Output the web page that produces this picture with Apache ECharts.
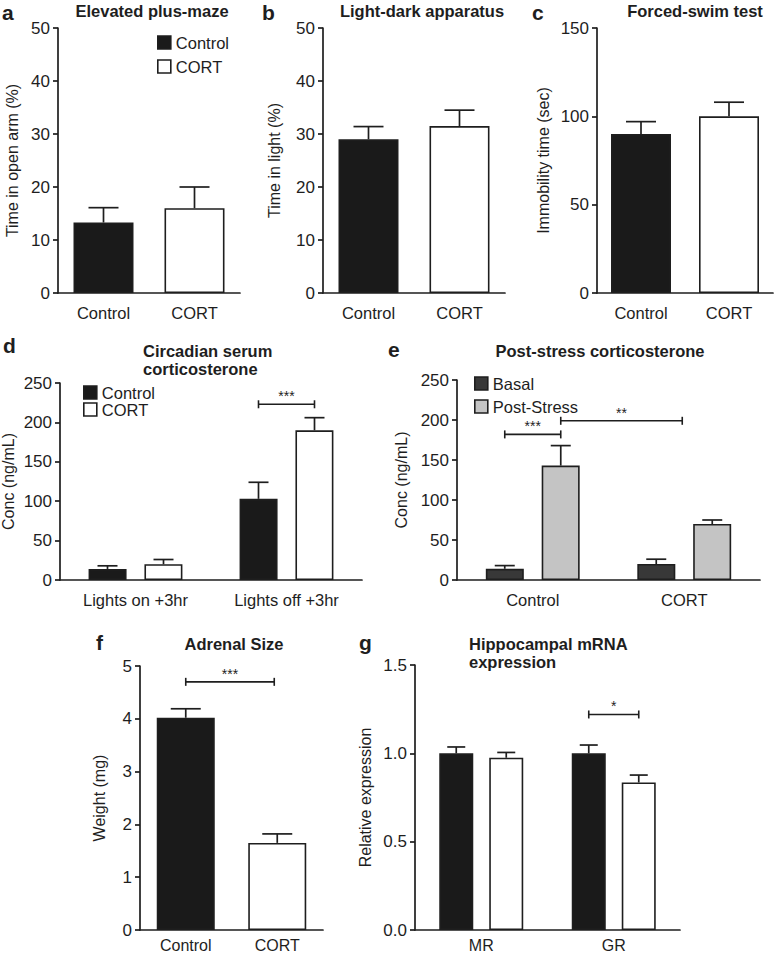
<!DOCTYPE html>
<html><head><meta charset="utf-8">
<script src="https://cdn.jsdelivr.net/npm/echarts@6/dist/echarts.min.js"></script>
<style>html,body{margin:0;padding:0;background:#fff}#c{width:774px;height:954px}</style>
</head><body><div id="c"></div>
<script>
// ---------- data ----------
const groupCats = ['Control', 'CORT'];
const epmMean = [13.3, 16.0];
const epmSem = [2.8, 4.0];
const ldMean = [29.0, 31.5];
const ldSem = [2.4, 3.0];
const fstMean = [90, 100];
const fstSem = [7, 8];

const circCats = ['Lights on +3hr', 'Lights off +3hr'];
const circControl = [14, 103];
const circControlSem = [4, 21];
const circCort = [20, 190];
const circCortSem = [6, 16];

const stressCats = ['Control', 'CORT'];
const stressBasal = [14, 20];
const stressBasalSem = [4, 6];
const stressPost = [143, 70];
const stressPostSem = [25, 5];

const adrenalMean = [4.02, 1.65];
const adrenalSem = [0.17, 0.17];

const mrnaCats = ['MR', 'GR'];
const mrnaControl = [1.0, 1.0];
const mrnaControlSem = [0.036, 0.047];
const mrnaCort = [0.975, 0.835];
const mrnaCortSem = [0.03, 0.042];

// significance brackets: [fromCategory, toCategory, height]
const sigCirc = [[1, 1, 223]];
const sigStressA = [[0, 0, 182]];
const sigStressB = [[0, 1, 199]];
const sigAdrenal = [[0, 1, 4.7]];
const sigMrna = [[1, 1, 1.22]];

// ---------- styles ----------
const FF = '"Liberation Sans", Arial, Helvetica, sans-serif';
const INK = '#1e1e1e';
const BLACK = {color: '#1a1a1a', borderColor: INK, borderWidth: 1.6};
const WHITE = {color: '#ffffff', borderColor: INK, borderWidth: 1.6};
const DARK = {color: '#383838', borderColor: INK, borderWidth: 1.6};
const LIGHT = {color: '#c4c4c4', borderColor: INK, borderWidth: 1.6};

const grids = [
  {left: 58, top: 28, width: 182, height: 265},   // a
  {left: 323, top: 28, width: 182, height: 265},  // b
  {left: 597, top: 28, width: 176, height: 265},  // c
  {left: 60, top: 383, width: 302, height: 197},  // d
  {left: 457, top: 380, width: 303, height: 200}, // e
  {left: 140, top: 666, width: 183, height: 264}, // f
  {left: 415, top: 665, width: 265, height: 265}  // g
].map(g => Object.assign({outerBoundsMode: 'none', containLabel: false}, g));

function xAx(gi, cats, bottomRow) {
  return {
    type: 'category', gridIndex: gi, data: cats,
    axisLine: {lineStyle: {color: INK, width: 1.7}},
    axisTick: {alignWithLabel: true, length: 5, lineStyle: {color: INK, width: 1.7}},
    axisLabel: {color: INK, fontSize: bottomRow ? 16 : 16.5, margin: bottomRow ? 7 : 10,
      lineHeight: bottomRow ? 16 : 19, fontFamily: FF, interval: 0},
    splitLine: {show: false}
  };
}
function yAx(gi, max, interval, name, gap, fmt) {
  return {
    type: 'value', gridIndex: gi, min: 0, max: max, interval: interval,
    name: name, nameLocation: 'middle', nameGap: gap,
    nameTextStyle: {color: INK, fontSize: 16, fontFamily: FF},
    axisLine: {show: true, lineStyle: {color: INK, width: 1.7}},
    axisTick: {show: true, length: 5, lineStyle: {color: INK, width: 1.7}},
    axisLabel: {color: INK, fontSize: 17, margin: 8, fontFamily: FF, formatter: fmt},
    splitLine: {show: false}
  };
}

function pairBars(gi, means, w) {
  return [
    {name: 'Control', type: 'bar', xAxisIndex: gi, yAxisIndex: gi, barWidth: w, barGap: '-100%',
      data: [means[0], '-'], itemStyle: BLACK, silent: true},
    {name: 'CORT', type: 'bar', xAxisIndex: gi, yAxisIndex: gi, barWidth: w, barGap: '-100%',
      data: ['-', means[1]], itemStyle: WHITE, silent: true}
  ];
}
function groupBar(gi, name, vals, style, w, gap) {
  return {name: name, type: 'bar', xAxisIndex: gi, yAxisIndex: gi, barWidth: w, barGap: gap,
    data: vals, itemStyle: style, silent: true};
}
function errSeries(gi, means, sems, offset, cap) {
  return {
    type: 'custom', xAxisIndex: gi, yAxisIndex: gi, z: 5, silent: true,
    data: means.map((m, i) => [i, m, m + sems[i]]),
    encode: {x: 0, y: [1, 2]},
    renderItem: function (params, api) {
      const a = api.coord([api.value(0), api.value(1)]);
      const b = api.coord([api.value(0), api.value(2)]);
      const x = a[0] + offset;
      const st = {stroke: INK, lineWidth: 1.7};
      return {type: 'group', children: [
        {type: 'line', shape: {x1: x, y1: a[1], x2: x, y2: b[1]}, style: st},
        {type: 'line', shape: {x1: x - cap, y1: b[1], x2: x + cap, y2: b[1]}, style: st}
      ]};
    }
  };
}
function bracket(gi, data, o1, o2, label) {
  return {
    type: 'custom', xAxisIndex: gi, yAxisIndex: gi, z: 6, silent: true,
    data: data, encode: {x: [0, 1], y: 2},
    renderItem: function (params, api) {
      const p1 = api.coord([api.value(0), api.value(2)]);
      const p2 = api.coord([api.value(1), api.value(2)]);
      const x1 = p1[0] + o1, x2 = p2[0] + o2, y = p1[1];
      const st = {stroke: INK, lineWidth: 1.6};
      return {type: 'group', children: [
        {type: 'line', shape: {x1: x1, y1: y, x2: x2, y2: y}, style: st},
        {type: 'line', shape: {x1: x1, y1: y - 4, x2: x1, y2: y + 4}, style: st},
        {type: 'line', shape: {x1: x2, y1: y - 4, x2: x2, y2: y + 4}, style: st},
        {type: 'text', x: (x1 + x2) / 2, y: y - 1,
          style: {text: label, align: 'center', verticalAlign: 'bottom', fill: INK,
            font: '14px ' + FF}}
      ]};
    }
  };
}

function txt(x, y, text, size, bold, align) {
  return {type: 'text', x: x, y: y, silent: true,
    style: {text: text, fill: INK, align: align || 'left', verticalAlign: 'middle',
      font: (bold ? 'bold ' : '') + size + 'px ' + FF}};
}

const legendText = {color: INK, fontSize: 16.5, fontFamily: FF, lineHeight: 15};

const option = {
  animation: false,
  backgroundColor: '#ffffff',
  grid: grids,
  xAxis: [
    xAx(0, groupCats), xAx(1, groupCats), xAx(2, groupCats),
    xAx(3, circCats), xAx(4, stressCats), xAx(5, groupCats, true), xAx(6, mrnaCats, true)
  ],
  yAxis: [
    yAx(0, 50, 10, 'Time in open arm (%)', 38),
    yAx(1, 50, 10, 'Time in light (%)', 41),
    yAx(2, 150, 50, 'Immobility time (sec)', 46),
    yAx(3, 250, 50, 'Conc (ng/mL)', 44),
    yAx(4, 250, 50, 'Conc (ng/mL)', 48),
    yAx(5, 5, 1, 'Weight (mg)', 33),
    yAx(6, 1.5, 0.5, 'Relative expression', 42, v => v.toFixed(1))
  ],
  legend: [
    {left: 157, top: 34, orient: 'vertical', icon: 'rect', itemWidth: 13, itemHeight: 13,
      itemGap: 7, selectedMode: false, textStyle: legendText, padding: 0,
      data: [{name: 'Control', itemStyle: BLACK}, {name: 'CORT', itemStyle: WHITE}]},
    {left: 83, top: 384, orient: 'vertical', icon: 'rect', itemWidth: 13, itemHeight: 13,
      itemGap: 0, selectedMode: false, textStyle: legendText, padding: 0,
      data: [{name: 'Control', itemStyle: BLACK}, {name: 'CORT', itemStyle: WHITE}]},
    {left: 474, top: 375, orient: 'vertical', icon: 'rect', itemWidth: 13, itemHeight: 13,
      itemGap: 6, selectedMode: false, textStyle: legendText, padding: 0,
      data: [{name: 'Basal', itemStyle: DARK}, {name: 'Post-Stress', itemStyle: LIGHT}]}
  ],
  graphic: [
    txt(2, 12, 'a', 21, true), txt(152, 11, 'Elevated plus-maze', 16.5, true, 'center'),
    txt(262, 12, 'b', 21, true), txt(422, 11, 'Light-dark apparatus', 16.5, true, 'center'),
    txt(532, 12, 'c', 21, true), txt(695, 11, 'Forced-swim test', 16.5, true, 'center'),
    txt(3, 345, 'd', 21, true), txt(143, 351, 'Circadian serum', 16.5, true),
    txt(143, 369, 'corticosterone', 16.5, true),
    txt(388, 349, 'e', 21, true), txt(600, 351, 'Post-stress corticosterone', 16.5, true, 'center'),
    txt(96, 642, 'f', 21, true), txt(234, 644, 'Adrenal Size', 16.5, true, 'center'),
    txt(359, 642, 'g', 21, true), txt(469, 644, 'Hippocampal mRNA', 16.5, true),
    txt(469, 662, 'expression', 16.5, true)
  ],
  series: [].concat(
    pairBars(0, epmMean, 60), [errSeries(0, epmMean, epmSem, 0, 15)],
    pairBars(1, ldMean, 60), [errSeries(1, ldMean, ldSem, 0, 15)],
    pairBars(2, fstMean, 60), [errSeries(2, fstMean, fstSem, 0, 15)],
    [groupBar(3, 'Control', circControl, BLACK, 38, '47%'),
     groupBar(3, 'CORT', circCort, WHITE, 38, '47%'),
     errSeries(3, circControl, circControlSem, -28, 10),
     errSeries(3, circCort, circCortSem, 28, 10),
     bracket(3, sigCirc, -28, 28, '***')],
    [groupBar(4, 'Basal', stressBasal, DARK, 38, '47%'),
     groupBar(4, 'Post-Stress', stressPost, LIGHT, 38, '47%'),
     errSeries(4, stressBasal, stressBasalSem, -28, 10),
     errSeries(4, stressPost, stressPostSem, 28, 10),
     bracket(4, sigStressA, -28, 28, '***'),
     bracket(4, sigStressB, 28, -2, '**')],
    pairBars(5, adrenalMean, 58), [errSeries(5, adrenalMean, adrenalSem, 0, 15),
     bracket(5, sigAdrenal, 0, -3, '***')],
    [groupBar(6, 'Control', mrnaControl, BLACK, 34, '47%'),
     groupBar(6, 'CORT', mrnaCort, WHITE, 34, '47%'),
     errSeries(6, mrnaControl, mrnaControlSem, -25, 9),
     errSeries(6, mrnaCort, mrnaCortSem, 25, 9),
     bracket(6, sigMrna, -25, 25, '*')]
  )
};

const chart = echarts.init(document.getElementById('c'), null, {renderer: 'svg', width: 774, height: 954});
chart.setOption(option);
</script>
</body></html>
